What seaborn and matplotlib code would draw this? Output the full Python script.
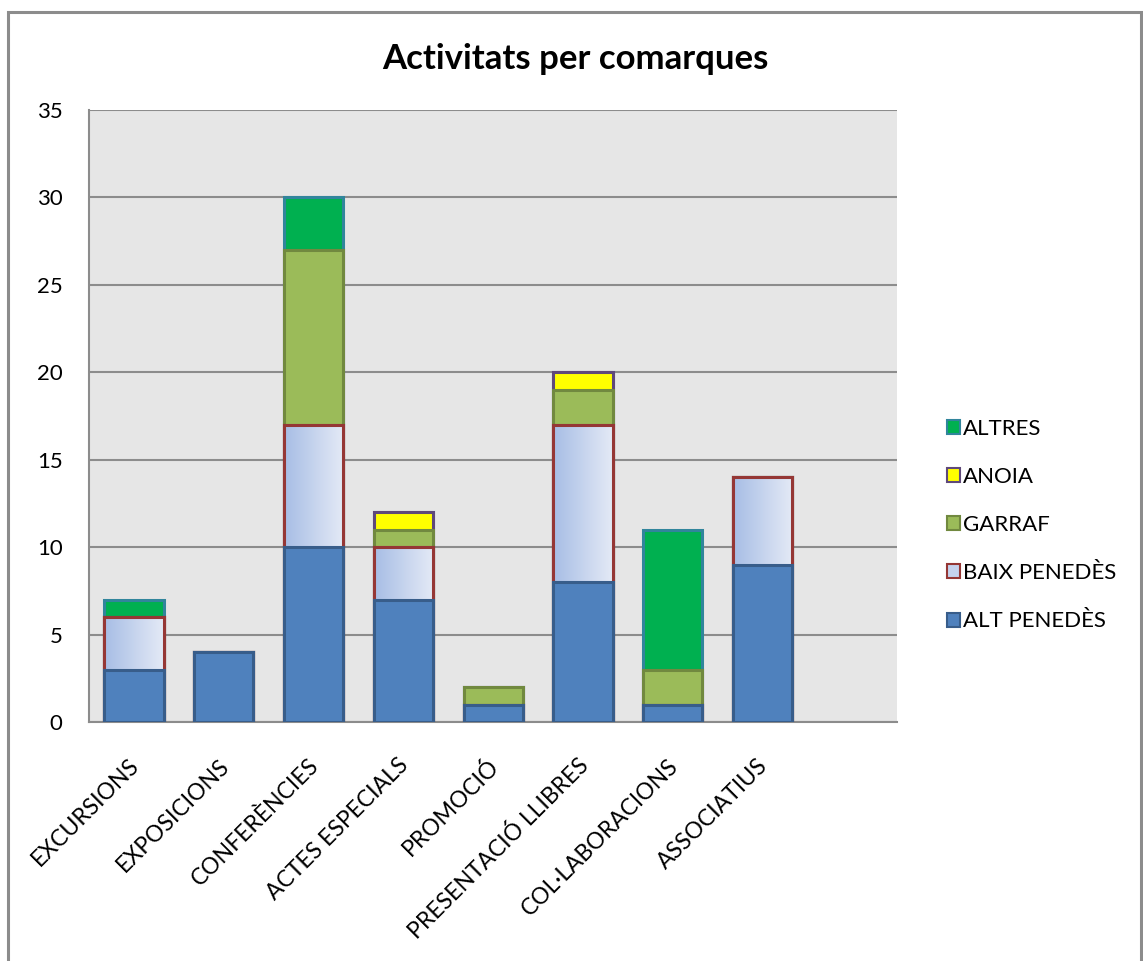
import numpy as np
import pandas as pd
import matplotlib
matplotlib.use("Agg")
import matplotlib.pyplot as plt
import matplotlib.patches as mpatches
import matplotlib.transforms as mtrans
from matplotlib.colors import LinearSegmentedColormap
import seaborn as sns

categories = ["EXCURSIONS", "EXPOSICIONS", "CONFERÈNCIES", "ACTES ESPECIALS", "PROMOCIÓ",
              "PRESENTACIÓ LLIBRES", "COL·LABORACIONS", "ASSOCIATIUS"]
alt_penedes = [3, 4, 10, 7, 1, 8, 1, 9]
baix_penedes = [3, 0, 7, 3, 0, 9, 0, 5]
garraf = [0, 0, 10, 1, 1, 2, 2, 0]
anoia = [0, 0, 0, 1, 0, 1, 0, 0]
altres = [1, 0, 3, 0, 0, 0, 8, 0]

series_names = ["ALT PENEDÈS", "BAIX PENEDÈS", "GARRAF", "ANOIA", "ALTRES"]
series_vals = [alt_penedes, baix_penedes, garraf, anoia, altres]
fills = ["#4f81bd", "#c5d3ee", "#9bbb59", "#ffff00", "#00b050"]
edges = ["#385d8a", "#953735", "#71893f", "#5f497a", "#31859c"]

sns.set_theme(style="white")
plt.rcParams["font.family"] = ["Lato", "DejaVu Sans"]
plt.rcParams["text.color"] = "black"
plt.rcParams["xtick.color"] = "black"
plt.rcParams["ytick.color"] = "black"

fig = plt.figure(figsize=(11.43, 9.61), dpi=100)
ax = fig.add_axes([0.0779, 0.2487, 0.785 - 0.0779, 0.8855 - 0.2487])
ax.set_facecolor("#e6e6e6")

cum = np.cumsum(np.array(series_vals), axis=0)
df = pd.DataFrame({"cat": categories})
bar_containers = {}
# draw from top layer down so lower layers overlay
for i in range(len(series_names) - 1, -1, -1):
    df["v"] = cum[i]
    n_before = len(ax.patches)
    sns.barplot(data=df, x="cat", y="v", order=categories, color=fills[i],
                saturation=1, width=0.66, edgecolor=edges[i], linewidth=2.2,
                ax=ax, zorder=3 + (len(series_names) - i), errorbar=None)
    bar_containers[i] = ax.patches[n_before:]

# gradient for BAIX PENEDÈS
grad = np.linspace(0, 1, 256).reshape(1, -1)
cmap = LinearSegmentedColormap.from_list("bp", ["#a7bde5", "#e4eaf6"])
for p in bar_containers[1]:
    x0, y0 = p.get_x(), p.get_y()
    w, h = p.get_width(), p.get_height()
    if h <= 0:
        continue
    im = ax.imshow(grad, cmap=cmap, aspect="auto", extent=[x0, x0 + w, y0, y0 + h],
                   zorder=p.get_zorder() + 0.1)
    im.set_clip_path(p)
    edge = mpatches.Rectangle((x0, y0), w, h, fill=False, edgecolor=edges[1],
                              linewidth=2.2, zorder=p.get_zorder() + 0.2)
    ax.add_patch(edge)

ax.set_xlim(-0.5, 8.5)
ax.set_ylim(0, 35)
ax.set_yticks(range(0, 36, 5))
ax.yaxis.grid(True, color="#8c8c8c", linewidth=1.5, zorder=0)
ax.set_axisbelow(True)
for s in ["top", "right"]:
    ax.spines[s].set_visible(False)
for s in ["left", "bottom"]:
    ax.spines[s].set_color("#8c8c8c")
    ax.spines[s].set_linewidth(1.5)
ax.set_xlabel("")
ax.set_ylabel("")
ax.tick_params(axis="y", labelsize=16, length=0, pad=19)
ax.tick_params(axis="x", labelsize=16.5, length=0, pad=29)
ax.set_xticks(range(len(categories)))
ax.set_xticklabels(categories, rotation=45, ha="right", va="center", rotation_mode="anchor")
offset = mtrans.ScaledTranslation(0.02, 0, fig.dpi_scale_trans)
for lab in ax.get_xticklabels():
    lab.set_transform(lab.get_transform() + offset)

fig.suptitle("Activitats per comarques", x=0.503, y=0.955, fontsize=25, fontweight="bold",
             color="black")

handles = [mpatches.Patch(facecolor=fills[i], edgecolor=edges[i], linewidth=1.5,
                          label=series_names[i]) for i in range(len(series_names) - 1, -1, -1)]
fig.legend(handles=handles, loc="center left", bbox_to_anchor=(0.8285, 0.4537),
           frameon=False, fontsize=16, handlelength=0.6, handleheight=0.6,
           handletextpad=0.12, labelspacing=1.27, borderpad=0, borderaxespad=0)

border = mpatches.Rectangle((0.0074, -0.02), 0.991, 0.988 + 0.02, transform=fig.transFigure,
                            fill=False, edgecolor="#8c8c8c", linewidth=2.2)
fig.patches.append(border)

fig.savefig("out.png", dpi=100)
